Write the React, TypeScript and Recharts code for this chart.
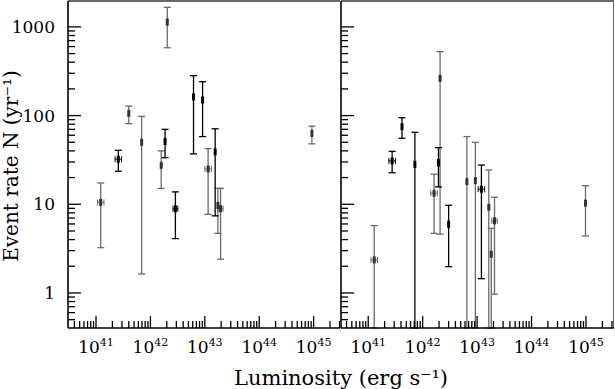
import React from 'react';
import { ScatterChart, Scatter, XAxis, YAxis, ErrorBar, ReferenceLine } from 'recharts';

// luminosity (erg s^-1), event rate N (yr^-1), lower / upper bound of N (0 = down to zero),
// half width of the luminosity error in dex (0 = none)
const leftBlackLum = [2.57e41, 1.86e42, 2.88e42, 6.2e42, 9.1e42, 1.55e43];
const leftBlackRate = [32.2, 51, 8.9, 162, 150, 39];
const leftBlackLow = [23.6, 33.5, 4.1, 37, 58, 7.4];
const leftBlackHigh = [40.6, 70, 13.8, 282, 241, 71];
const leftBlackLumErr = [0.06, 0, 0.045, 0, 0, 0];

const leftGrayLum = [1.22e41, 4.0e41, 6.9e41, 1.58e42, 2.04e42, 1.15e43, 1.74e43, 1.95e43, 9.3e44];
const leftGrayRate = [10.5, 106, 50, 27.5, 1135, 25, 9.7, 8.9, 63];
const leftGrayLow = [3.24, 81, 1.64, 15.1, 582, 7.7, 4.7, 2.4, 48];
const leftGrayHigh = [17.4, 128, 98, 40, 1664, 42.4, 15.1, 15.1, 76];
const leftGrayLumErr = [0.06, 0, 0, 0, 0, 0.06, 0, 0.045, 0];

const rightBlackLum = [2.75e41, 4.17e41, 7.2e41, 1.95e42, 3.0e42, 1.2e43];
const rightBlackRate = [30.8, 75, 28.2, 29.4, 5.95, 14.8];
const rightBlackLow = [22.7, 55.5, 0, 15.7, 1.98, 1.45];
const rightBlackHigh = [39.5, 94.7, 64.8, 43.5, 9.75, 27.7];
const rightBlackLumErr = [0.06, 0, 0, 0, 0, 0.06];

const rightGrayLum = [1.29e41, 1.62e42, 2.09e42, 6.5e42, 9.3e42, 1.64e43, 1.82e43, 2.09e43, 9.8e44];
const rightGrayRate = [2.36, 13.3, 263, 18, 18.5, 9.25, 2.73, 6.5, 10.3];
const rightGrayLow = [0, 4.7, 4.6, 0, 0, 0, 0, 0.97, 4.4];
const rightGrayHigh = [5.74, 21.8, 525, 58, 50, 24.4, 5.36, 12, 16.2];
const rightGrayLumErr = [0.06, 0.06, 0, 0, 0, 0, 0, 0.05, 0];

const xDecades = [41, 42, 43, 44, 45];
const yDecades = [0, 1, 2, 3];
const yTickLabels = ['1', '10', '100', '1000'];

const Y_MIN = -0.395;
const Y_MAX = 3.292;
const LEFT_X = [40.485, 45.485];
const RIGHT_X = [40.5, 45.515];

const FONT = '"DejaVu Serif", serif';
const GRAY = '#6a6a6a';

function build(lum: number[], rate: number[], low: number[], high: number[], lumErr: number[]) {
  return lum.map((l, i) => {
    const y = Math.log10(rate[i]);
    const lo = low[i] > 0 ? Math.max(Math.log10(low[i]), Y_MIN) : Y_MIN;
    const hi = Math.min(Math.log10(high[i]), Y_MAX);
    return { x: Math.log10(l), y, ye: [y - lo, hi - y], xe: lumErr[i] || null };
  });
}

function minorTicks(decades: number[], lo: number, hi: number) {
  const out: number[] = [];
  for (let d = Math.floor(lo); d <= Math.ceil(hi); d++) {
    for (let m = 1; m <= 9; m++) {
      const v = d + Math.log10(m);
      if (v >= lo && v <= hi) out.push(v);
    }
  }
  return out;
}

const isMajor = (v: number) => Math.abs(v - Math.round(v)) < 1e-9;

const XTick = (props: any) => {
  const { x, y, payload } = props;
  const v = payload.value;
  const major = isMajor(v);
  return (
    <g>
      <line x1={x} x2={x} y1={y} y2={y - (major ? 12 : 7)} stroke="#000" strokeWidth={1.3} />
      {major && (
        <text x={x} y={y + 25} textAnchor="middle" fontFamily={FONT} fontSize={17} fill="#000">
          10
          <tspan dy={-7} fontSize={11}>{Math.round(v)}</tspan>
        </text>
      )}
    </g>
  );
};

const YTick = (props: any) => {
  const { x, y, payload, showLabel } = props;
  const v = payload.value;
  const major = isMajor(v);
  const idx = yDecades.indexOf(Math.round(v));
  return (
    <g>
      <line x1={x} x2={x + (major ? 13 : 7)} y1={y} y2={y} stroke="#000" strokeWidth={1.3} />
      {major && showLabel && idx >= 0 && (
        <text x={x - 13} y={y + 6} textAnchor="end" fontFamily={FONT} fontSize={17} fill="#000">
          {yTickLabels[idx]}
        </text>
      )}
    </g>
  );
};

const marker = (color: string) => (p: any) => (
  <rect x={p.cx - 1.5} y={p.cy - 3.5} width={3} height={7} fill={color} />
);

function Series({ data, color, markColor }: { data: any[]; color: string; markColor: string }) {
  return (
    <Scatter data={data} isAnimationActive={false} shape={marker(markColor)}>
      <ErrorBar dataKey="ye" direction="y" width={3.5} stroke={color} strokeWidth={1.3} />
      <ErrorBar dataKey="xe" direction="x" width={3} stroke={color} strokeWidth={1} />
    </Scatter>
  );
}

function Panel({ width, domain, yWidth, showLabels, black, gray }: any) {
  const xTicks = [...xDecades.filter((d) => d >= domain[0] && d <= domain[1]), ...minorTicks(xDecades, domain[0], domain[1]).filter((v) => !isMajor(v))].sort((a, b) => a - b);
  const yTicks = minorTicks(yDecades, Y_MIN, Y_MAX);
  return (
    <ScatterChart width={width} height={389} margin={{ top: 1, right: 0, bottom: 0, left: 0 }}>
      <XAxis
        type="number"
        dataKey="x"
        domain={domain}
        allowDataOverflow
        ticks={xTicks}
        interval={0}
        height={61}
        tickSize={0}
        tickMargin={0}
        tickLine={false}
        axisLine={{ stroke: '#000', strokeWidth: 1.6 }}
        tick={<XTick />}
      />
      <YAxis
        type="number"
        dataKey="y"
        domain={[Y_MIN, Y_MAX]}
        allowDataOverflow
        ticks={yTicks}
        interval={0}
        width={yWidth}
        tickSize={0}
        tickMargin={0}
        tickLine={false}
        axisLine={{ stroke: '#000', strokeWidth: 1.6 }}
        tick={<YTick showLabel={showLabels} />}
      />
      <ReferenceLine y={Y_MAX} stroke={GRAY} strokeWidth={2} ifOverflow="visible" />
      {!showLabels && <ReferenceLine x={domain[1]} stroke={GRAY} strokeWidth={2} ifOverflow="visible" />}
      <Series data={gray} color={GRAY} markColor="#333" />
      <Series data={black} color="#000" markColor="#000" />
    </ScatterChart>
  );
}

export default function App() {
  const leftBlack = build(leftBlackLum, leftBlackRate, leftBlackLow, leftBlackHigh, leftBlackLumErr);
  const leftGray = build(leftGrayLum, leftGrayRate, leftGrayLow, leftGrayHigh, leftGrayLumErr);
  const rightBlack = build(rightBlackLum, rightBlackRate, rightBlackLow, rightBlackHigh, rightBlackLumErr);
  const rightGray = build(rightGrayLum, rightGrayRate, rightGrayLow, rightGrayHigh, rightGrayLumErr);
  return (
    <div style={{ position: 'absolute', left: 0, top: 0, width: 615, height: 389, background: '#fff', overflow: 'hidden', color: '#000' }}>
      <div style={{ position: 'absolute', left: 0, top: 0 }}>
        <Panel width={340} domain={LEFT_X} yWidth={68} showLabels black={leftBlack} gray={leftGray} />
      </div>
      <div style={{ position: 'absolute', left: 331, top: 0 }}>
        <Panel width={283} domain={RIGHT_X} yWidth={10} showLabels={false} black={rightBlack} gray={rightGray} />
      </div>
      <div style={{ position: 'absolute', left: 11, top: 166, width: 0, height: 0 }}>
        <div
          style={{
            position: 'absolute',
            left: 0,
            top: 0,
            transform: 'translate(-50%, -50%) rotate(-90deg)',
            whiteSpace: 'nowrap',
            fontFamily: FONT,
            fontSize: 20,
            lineHeight: '20px',
            color: '#000',
          }}
        >
          Event rate N (yr⁻¹)
        </div>
      </div>
      <div
        style={{
          position: 'absolute',
          left: 68,
          width: 546,
          top: 366,
          textAlign: 'center',
          fontFamily: FONT,
          fontSize: 21,
          lineHeight: '24px',
          whiteSpace: 'nowrap',
          color: '#000',
        }}
      >
        Luminosity (erg s⁻¹)
      </div>
    </div>
  );
}
